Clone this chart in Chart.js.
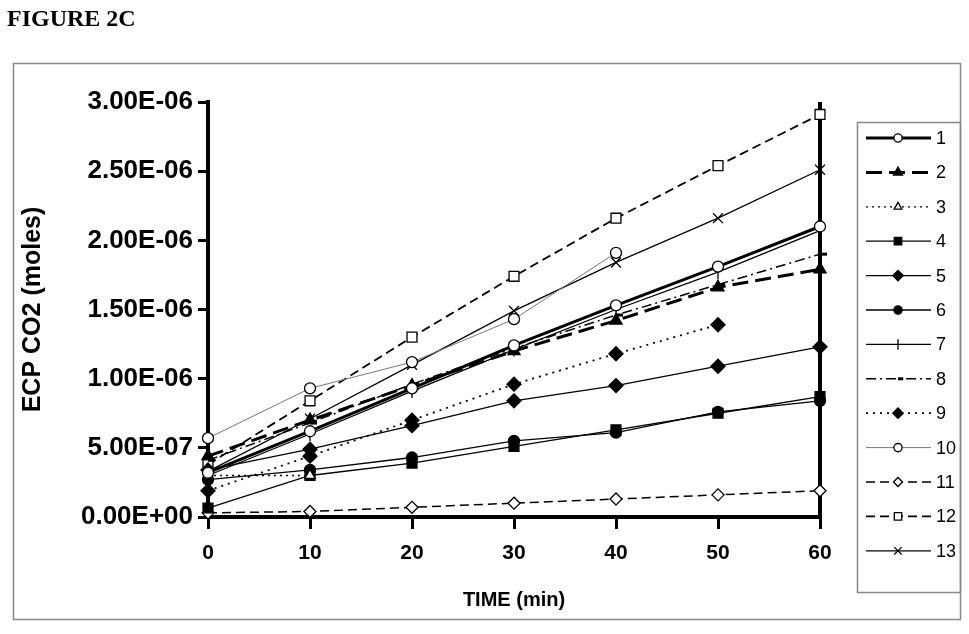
<!DOCTYPE html>
<html>
<head>
<meta charset="utf-8">
<script src="https://cdn.jsdelivr.net/npm/chart.js@4.4.0/dist/chart.umd.min.js"></script>
<style>
  body { margin: 0; background: #fff; }
  #wrap { position: relative; width: 969px; height: 634px; }
  #fig { position: absolute; left: 7px; top: 5px; font: bold 24px "Liberation Serif", "Times New Roman", serif; color: #000; }
  canvas { position: absolute; left: 0; top: 0; }
</style>
</head>
<body>
<div id="wrap">
  <canvas id="chart" width="969" height="634"></canvas>
  <div id="fig">FIGURE 2C</div>
</div>
<script>
// time points (min)
const times = [0, 10, 20, 30, 40, 50, 60];
const seriesNames = ["1", "2", "3", "4", "5", "6", "7", "8", "9", "10", "11", "12", "13"];

// ECP CO2 (moles); null = no point
const s1 = [3.2e-7, 6.2e-7, 9.3e-7, 1.24e-6, 1.53e-6, 1.81e-6, 2.10e-6];
const s2 = [4.4e-7, 7.0e-7, 9.5e-7, 1.20e-6, 1.42e-6, 1.66e-6, 1.79e-6];
const s3 = [3.0e-7, 3.0e-7, null, null, null, null, null];
const s4 = [6.5e-8, 3.0e-7, 3.9e-7, 5.1e-7, 6.3e-7, 7.5e-7, 8.7e-7];
const s5 = [3.4e-7, 4.9e-7, 6.6e-7, 8.4e-7, 9.5e-7, 1.09e-6, 1.23e-6];
const s6 = [2.7e-7, 3.4e-7, 4.3e-7, 5.5e-7, 6.1e-7, 7.6e-7, 8.4e-7];
const s7 = [3.0e-7, 6.0e-7, 9.1e-7, 1.21e-6, 1.50e-6, 1.77e-6, 2.07e-6];
const s8 = [4.1e-7, 6.8e-7, 9.6e-7, 1.22e-6, 1.46e-6, 1.68e-6, 1.90e-6];
const s9 = [1.9e-7, 4.4e-7, 7.0e-7, 9.6e-7, 1.18e-6, 1.39e-6, null];
const s10 = [5.7e-7, 9.3e-7, 1.12e-6, 1.43e-6, 1.91e-6, null, null];
const s11 = [3.0e-8, 4.0e-8, 7.0e-8, 1.0e-7, 1.3e-7, 1.6e-7, 1.9e-7];
const s12 = [3.8e-7, 8.4e-7, 1.30e-6, 1.74e-6, 2.16e-6, 2.54e-6, 2.91e-6];
const s13 = [3.3e-7, 7.1e-7, 1.10e-6, 1.49e-6, 1.84e-6, 2.16e-6, 2.51e-6];

const yTicks = [0, 5e-7, 1e-6, 1.5e-6, 2e-6, 2.5e-6, 3e-6];

function sci(v) {
  if (Math.abs(v) < 1e-12) return "0.00E+00";
  let e = Math.floor(Math.log10(Math.abs(v)) + 1e-9);
  let m = v / Math.pow(10, e);
  if (m >= 9.995) { m /= 10; e++; }
  return m.toFixed(2) + "E" + (e < 0 ? "-" : "+") + String(Math.abs(e)).padStart(2, "0");
}

function pts(arr) {
  return times.map((t, i) => ({ x: t, y: arr[i] }));
}

const styles = [
  { data: s1, w: 3, dash: [], ps: "circle", r: 5.5, fill: "#fff", color: "#000" },
  { data: s2, w: 3, dash: [16, 7], ps: "triangle", r: 7, fill: "#000", color: "#000" },
  { data: s3, w: 1.3, dash: [2, 4], ps: "triangle", r: 6, fill: "#fff", color: "#000" },
  { data: s4, w: 1.3, dash: [], ps: "rect", r: 7, fill: "#000", color: "#000" },
  { data: s5, w: 1.3, dash: [], ps: "rectRot", r: 7, fill: "#000", color: "#000" },
  { data: s6, w: 1.3, dash: [], ps: "circle", r: 5.5, fill: "#000", color: "#000" },
  { data: s7, w: 1.3, dash: [], ps: "line", rot: 90, r: 7, fill: "#000", color: "#000" },
  { data: s8, w: 1.5, dash: [10, 4, 2, 4], ps: "dash", r: 7, fill: "#000", color: "#000", pw: 3 },
  { data: s9, w: 1.8, dash: [2, 5], ps: "rectRot", r: 7, fill: "#000", color: "#000" },
  { data: s10, w: 1, dash: [], ps: "circle", r: 5.5, fill: "#fff", color: "#777", pc: "#000" },
  { data: s11, w: 1.5, dash: [9, 5], ps: "rectRot", r: 6, fill: "#fff", color: "#000" },
  { data: s12, w: 1.8, dash: [9, 5], ps: "rect", r: 7, fill: "#fff", color: "#000" },
  { data: s13, w: 1.3, dash: [], ps: "crossRot", r: 7, fill: "#000", color: "#000" }
];

const datasets = styles.map((s, i) => ({
  label: seriesNames[i],
  data: pts(s.data),
  borderColor: s.color,
  borderWidth: s.w,
  borderDash: s.dash,
  pointStyle: s.ps,
  pointRotation: s.rot || 0,
  pointRadius: s.r,
  pointBackgroundColor: s.fill,
  pointBorderColor: s.pc || "#000",
  pointBorderWidth: s.pw || 1.3,
  tension: 0,
  spanGaps: false,
  clip: false
}));

// frame, right plot edge and the boxed legend
const decor = {
  id: "decor",
  beforeDraw(chart) {
    const ctx = chart.ctx;
    ctx.save();
    ctx.strokeStyle = "#888";
    ctx.lineWidth = 1.5;
    ctx.strokeRect(13.5, 63.5, 947, 556);
    ctx.restore();
  },
  beforeDatasetsDraw(chart) {
    const { ctx, chartArea } = chart;
    ctx.save();
    ctx.strokeStyle = "#000";
    ctx.lineWidth = 4;
    ctx.beginPath();
    ctx.moveTo(chartArea.right, chartArea.top);
    ctx.lineTo(chartArea.right, chartArea.bottom);
    ctx.stroke();
    ctx.restore();
  },
  afterDraw(chart) {
    const ctx = chart.ctx;
    ctx.save();
    ctx.strokeStyle = "#888";
    ctx.lineWidth = 1.5;
    ctx.strokeRect(857.5, 122.5, 103, 470);
    ctx.font = "18px 'Liberation Sans', Arial, sans-serif";
    ctx.textBaseline = "middle";
    chart.data.datasets.forEach((ds, i) => {
      const y = 138 + i * 34.4;
      ctx.strokeStyle = ds.borderColor;
      ctx.lineWidth = ds.borderWidth;
      ctx.setLineDash(ds.borderDash);
      ctx.beginPath();
      ctx.moveTo(866, y);
      ctx.lineTo(931, y);
      ctx.stroke();
      ctx.setLineDash([]);
      ctx.fillStyle = ds.pointBackgroundColor;
      ctx.strokeStyle = ds.pointBorderColor;
      ctx.lineWidth = ds.pointBorderWidth;
      Chart.helpers.drawPoint(ctx, {
        pointStyle: ds.pointStyle,
        rotation: ds.pointRotation,
        radius: ds.pointRadius * 0.75,
        borderWidth: ds.pointBorderWidth
      }, 898, y);
      ctx.fillStyle = "#000";
      ctx.fillText(ds.label, 936, y + 1);
    });
    ctx.restore();
  }
};

const boldFont = { family: "'Liberation Sans', Arial, sans-serif", weight: "bold" };

new Chart(document.getElementById("chart"), {
  type: "line",
  data: { datasets },
  plugins: [decor],
  options: {
    responsive: false,
    animation: false,
    layout: { padding: { left: 0, right: 149, top: 102, bottom: 0 } },
    plugins: { legend: { display: false }, tooltip: { enabled: false } },
    scales: {
      x: {
        type: "linear",
        min: 0,
        max: 60,
        afterFit: (s) => { s.height = 117; },
        ticks: { stepSize: 10, color: "#000", padding: 12, font: { ...boldFont, size: 21 } },
        grid: { drawOnChartArea: false, drawTicks: true, tickLength: 12, color: "#000", lineWidth: 3 },
        border: { display: true, color: "#000", width: 4 },
        title: { display: true, text: "TIME (min)", color: "#000", font: { ...boldFont, size: 20 }, padding: { top: 0, bottom: 22 } }
      },
      y: {
        min: 0,
        max: 3e-6,
        afterFit: (s) => { s.width = 208; },
        afterBuildTicks: (s) => { s.ticks = yTicks.map(v => ({ value: v })); },
        ticks: { color: "#000", padding: 5, font: { ...boldFont, size: 26 }, callback: (v) => sci(v) },
        grid: { drawOnChartArea: false, drawTicks: true, tickLength: 10, color: "#000", lineWidth: 3 },
        border: { display: true, color: "#000", width: 4 },
        title: { display: true, text: "ECP CO2 (moles)", color: "#000", font: { ...boldFont, size: 25 }, padding: { top: 18, bottom: 0 } }
      }
    }
  }
});
</script>
</body>
</html>
